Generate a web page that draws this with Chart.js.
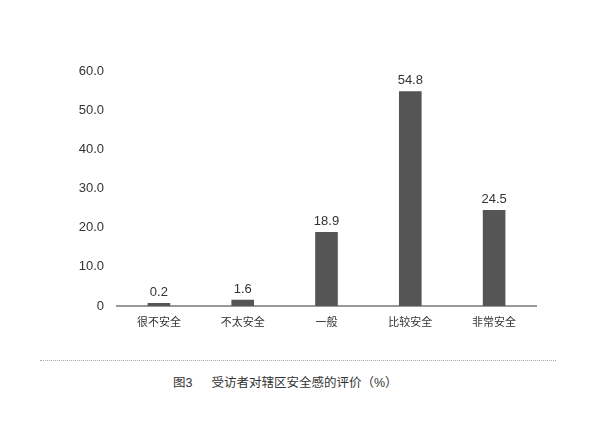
<!DOCTYPE html>
<html>
<head>
<meta charset="utf-8">
<script src="https://cdn.jsdelivr.net/npm/chart.js@4"></script>
<style>
  html, body { margin: 0; padding: 0; background: #fff; }
  #wrap { position: relative; width: 600px; height: 428px; overflow: hidden; }
  #box { position: absolute; left: 0; top: 0; width: 600px; height: 340px; }
  #rule { position: absolute; left: 40px; top: 360px; width: 516px; border-top: 1px dotted #aaa; }
  #caption {
    position: absolute; left: 173px; top: 372px;
    font: 12.5px "Liberation Sans", "Noto Sans CJK SC", sans-serif; color: #333;
    white-space: pre;
  }
  #caption span { margin-left: 19px; }
</style>
</head>
<body>
<div id="wrap">
  <div id="box"><canvas id="c"></canvas></div>
  <div id="rule"></div>
  <div id="caption">图3<span>受访者对辖区安全感的评价（%）</span></div>
</div>
<script>
// 分类和数值
const categories = ["很不安全", "不太安全", "一般", "比较安全", "非常安全"];
const values = [0.2, 1.6, 18.9, 54.8, 24.5];
const yTicks = [0, 10, 20, 30, 40, 50, 60];

const FONT = "'Liberation Sans', 'Noto Sans CJK SC', sans-serif";

// label angka di atas bar
const barLabelPlugin = {
  id: "barLabel",
  afterDatasetsDraw(chart) {
    const ctx = chart.ctx;
    const meta = chart.getDatasetMeta(0);
    ctx.save();
    ctx.font = "13px " + FONT;
    ctx.fillStyle = "#333";
    ctx.textAlign = "center";
    ctx.textBaseline = "bottom";
    meta.data.forEach((bar, i) => {
      ctx.fillText(values[i].toFixed(1), bar.x, bar.y - 4);
    });
    ctx.restore();
  }
};

new Chart(document.getElementById("c"), {
  type: "bar",
  data: {
    labels: categories,
    datasets: [{
      data: values,
      backgroundColor: "#555555",
      barPercentage: 0.27,
      categoryPercentage: 1,
      minBarLength: 3
    }]
  },
  options: {
    responsive: true,
    maintainAspectRatio: false,
    animation: false,
    layout: { padding: { top: 71, right: 64, left: 0, bottom: 0 } },
    plugins: { legend: { display: false }, tooltip: { enabled: false } },
    scales: {
      x: {
        grid: { display: false, drawTicks: false },
        border: { display: true, color: "#999", width: 2 },
        ticks: { color: "#333", font: { size: 11, family: FONT }, padding: 10 },
        afterFit: s => { s.height = 34; }
      },
      y: {
        min: 0, max: 60,
        grid: { display: false, drawTicks: false },
        border: { display: false },
        afterBuildTicks: s => { s.ticks = yTicks.map(v => ({ value: v })); },
        ticks: {
          color: "#333",
          font: { size: 13, family: FONT },
          padding: 13,
          callback: v => v === 0 ? "0" : v.toFixed(1)
        },
        afterFit: s => { s.width = 117; }
      }
    }
  },
  plugins: [barLabelPlugin]
});
</script>
</body>
</html>
